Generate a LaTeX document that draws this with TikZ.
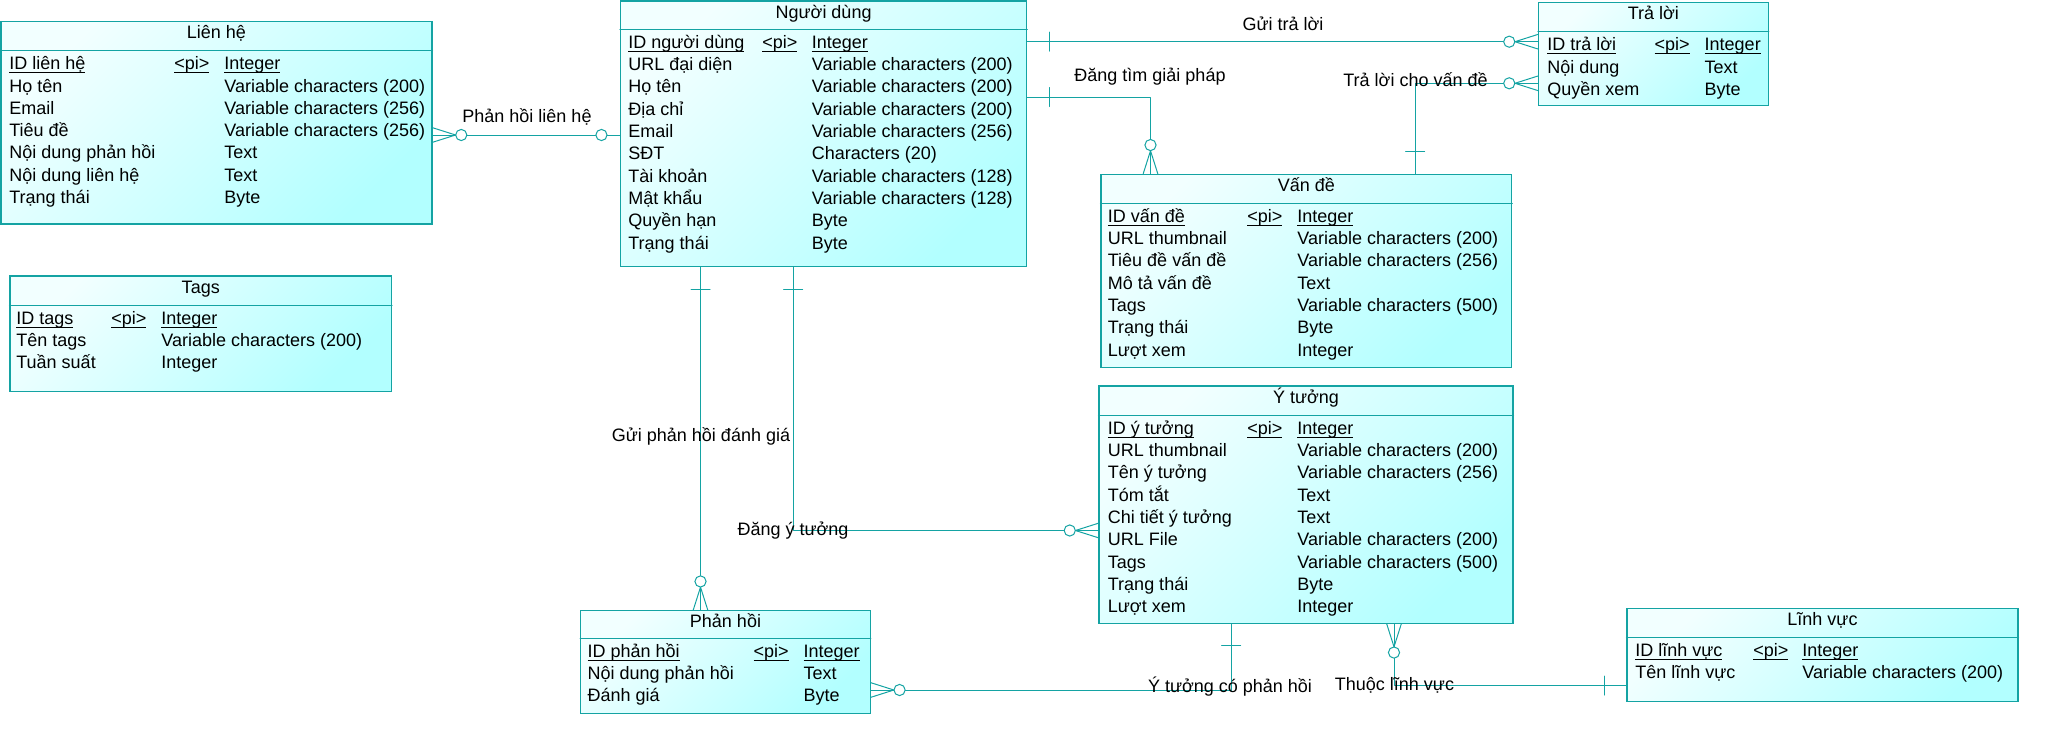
\documentclass[tikz,border=0pt]{standalone}
\usepackage{fontspec}
\setmainfont{Liberation Sans}
\usetikzlibrary{fit}
\definecolor{erline}{HTML}{14A3A3}
\definecolor{erfilla}{HTML}{F2FFFF}
\definecolor{erfillb}{HTML}{B2FFFF}
\newcommand{\keyul}[1]{\underline{\smash{#1}}}
\begin{document}
\begin{tikzpicture}[x=0.5pt,y=-0.5pt,line cap=round,line join=round,
    font=\fontsize{9}{11}\selectfont,
    entbox/.style={draw=erline,line width=0.55pt,line join=miter,inner sep=0pt,top color=erfilla,bottom color=erfillb,shading angle=45},
    hdr/.style={draw=erline,line width=0.55pt},
    rel/.style={draw=erline,line width=0.5pt},
    cell/.style={anchor=base west,inner sep=0pt},
    ttl/.style={anchor=base,inner sep=0pt},
    lbl/.style={anchor=base,inner sep=0pt}]
  \useasboundingbox (0,0) rectangle (2052,744);

  % Lien he
  \node[entbox,fit={(1,21.7) (432,224)}] (lienhe) {};
  \draw[hdr] (lienhe.west |- 0,50.7) -- (lienhe.east |- 0,50.7);
  \node[ttl] (lienhe-t) at (lienhe.center |- 0,38.7) {Liên hệ};
  \node[cell] (lienhe-k1) at (9,69.7) {\keyul{ID liên hệ}};
  \node[cell] (lienhe-k2) at (174,69.7) {\keyul{<pi>}};
  \node[cell] (lienhe-k3) at (224,69.7) {\keyul{Integer}};
  \foreach \nm/\ty [count=\i] in {Họ tên/Variable characters (200),Email/Variable characters (256),
      Tiêu đề/Variable characters (256),Nội dung phản hồi/Text,Nội dung liên hệ/Text,Trạng thái/Byte}
    {\node[cell] (lienhe-n\i) at (9,{69.7+22.3*\i}) {\nm};
     \node[cell] (lienhe-d\i) at (224,{69.7+22.3*\i}) {\ty};}

  % Nguoi dung
  \node[entbox,fit={(620.5,1) (1026.7,266.7)}] (nguoidung) {};
  \draw[hdr] (nguoidung.west |- 0,29.3) -- (nguoidung.east |- 0,29.3);
  \node[ttl] (nguoidung-t) at (nguoidung.center |- 0,18.3) {Người dùng};
  \node[cell] (nguoidung-k1) at (628,48.3) {\keyul{ID người dùng}};
  \node[cell] (nguoidung-k2) at (762,48.3) {\keyul{<pi>}};
  \node[cell] (nguoidung-k3) at (811.5,48.3) {\keyul{Integer}};
  \foreach \nm/\ty [count=\i] in {URL đại diện/Variable characters (200),Họ tên/Variable characters (200),
      Địa chỉ/Variable characters (200),Email/Variable characters (256),SĐT/Characters (20),
      Tài khoản/Variable characters (128),Mật khẩu/Variable characters (128),Quyền hạn/Byte,Trạng thái/Byte}
    {\node[cell] (nguoidung-n\i) at (628,{48.3+22.3*\i}) {\nm};
     \node[cell] (nguoidung-d\i) at (811.5,{48.3+22.3*\i}) {\ty};}

  % Tra loi
  \node[entbox,fit={(1538.5,2.7) (1768.3,105.3)}] (traloi) {};
  \draw[hdr] (traloi.west |- 0,31.7) -- (traloi.east |- 0,31.7);
  \node[ttl] (traloi-t) at (traloi.center |- 0,19.7) {Trả lời};
  \node[cell] (traloi-k1) at (1547,50.7) {\keyul{ID trả lời}};
  \node[cell] (traloi-k2) at (1654.3,50.7) {\keyul{<pi>}};
  \node[cell] (traloi-k3) at (1704.3,50.7) {\keyul{Integer}};
  \foreach \nm/\ty [count=\i] in {Nội dung/Text,Quyền xem/Byte}
    {\node[cell] (traloi-n\i) at (1547,{50.7+22.3*\i}) {\nm};
     \node[cell] (traloi-d\i) at (1704.3,{50.7+22.3*\i}) {\ty};}

  % Van de
  \node[entbox,fit={(1101,174.3) (1511.7,367.3)}] (vande) {};
  \draw[hdr] (vande.west |- 0,203.3) -- (vande.east |- 0,203.3);
  \node[ttl] (vande-t) at (vande.center |- 0,191.3) {Vấn đề};
  \node[cell] (vande-k1) at (1107.5,222.3) {\keyul{ID vấn đề}};
  \node[cell] (vande-k2) at (1247,222.3) {\keyul{<pi>}};
  \node[cell] (vande-k3) at (1297,222.3) {\keyul{Integer}};
  \foreach \nm/\ty [count=\i] in {URL thumbnail/Variable characters (200),Tiêu đề vấn đề/Variable characters (256),
      Mô tả vấn đề/Text,Tags/Variable characters (500),Trạng thái/Byte,Lượt xem/Integer}
    {\node[cell] (vande-n\i) at (1107.5,{222.3+22.3*\i}) {\nm};
     \node[cell] (vande-d\i) at (1297,{222.3+22.3*\i}) {\ty};}

  % Y tuong
  \node[entbox,fit={(1099,386) (1513,623.3)}] (ytuong) {};
  \draw[hdr] (ytuong.west |- 0,415.3) -- (ytuong.east |- 0,415.3);
  \node[ttl] (ytuong-t) at (ytuong.center |- 0,403) {Ý tưởng};
  \node[cell] (ytuong-k1) at (1107.5,434.3) {\keyul{ID ý tưởng}};
  \node[cell] (ytuong-k2) at (1247,434.3) {\keyul{<pi>}};
  \node[cell] (ytuong-k3) at (1297,434.3) {\keyul{Integer}};
  \foreach \nm/\ty [count=\i] in {URL thumbnail/Variable characters (200),Tên ý tưởng/Variable characters (256),
      Tóm tắt/Text,Chi tiết ý tưởng/Text,URL File/Variable characters (200),Tags/Variable characters (500),
      Trạng thái/Byte,Lượt xem/Integer}
    {\node[cell] (ytuong-n\i) at (1107.5,{434.3+22.3*\i}) {\nm};
     \node[cell] (ytuong-d\i) at (1297,{434.3+22.3*\i}) {\ty};}

  % Linh vuc
  \node[entbox,fit={(1627,608.3) (2018,701.3)}] (linhvuc) {};
  \draw[hdr] (linhvuc.west |- 0,637.3) -- (linhvuc.east |- 0,637.3);
  \node[ttl] (linhvuc-t) at (linhvuc.center |- 0,625.3) {Lĩnh vực};
  \node[cell] (linhvuc-k1) at (1635,656.3) {\keyul{ID lĩnh vực}};
  \node[cell] (linhvuc-k2) at (1753,656.3) {\keyul{<pi>}};
  \node[cell] (linhvuc-k3) at (1802,656.3) {\keyul{Integer}};
  \node[cell] (linhvuc-n1) at (1635,678.6) {Tên lĩnh vực};
  \node[cell] (linhvuc-d1) at (1802,678.6) {Variable characters (200)};

  % Tags
  \node[entbox,fit={(10,276) (391.5,391.3)}] (tags) {};
  \draw[hdr] (tags.west |- 0,305.3) -- (tags.east |- 0,305.3);
  \node[ttl] (tags-t) at (tags.center |- 0,293) {Tags};
  \node[cell] (tags-k1) at (16,324.3) {\keyul{ID tags}};
  \node[cell] (tags-k2) at (111,324.3) {\keyul{<pi>}};
  \node[cell] (tags-k3) at (161,324.3) {\keyul{Integer}};
  \foreach \nm/\ty [count=\i] in {Tên tags/Variable characters (200),Tuần suất/Integer}
    {\node[cell] (tags-n\i) at (16,{324.3+22.3*\i}) {\nm};
     \node[cell] (tags-d\i) at (161,{324.3+22.3*\i}) {\ty};}

  % Phan hoi
  \node[entbox,fit={(580.7,610.7) (870.3,713.3)}] (phanhoi) {};
  \draw[hdr] (phanhoi.west |- 0,638.3) -- (phanhoi.east |- 0,638.3);
  \node[ttl] (phanhoi-t) at (phanhoi.center |- 0,627.7) {Phản hồi};
  \node[cell] (phanhoi-k1) at (587.3,657.3) {\keyul{ID phản hồi}};
  \node[cell] (phanhoi-k2) at (753.3,657.3) {\keyul{<pi>}};
  \node[cell] (phanhoi-k3) at (803.3,657.3) {\keyul{Integer}};
  \foreach \nm/\ty [count=\i] in {Nội dung phản hồi/Text,Đánh giá/Byte}
    {\node[cell] (phanhoi-n\i) at (587.3,{657.3+22.2*\i}) {\nm};
     \node[cell] (phanhoi-d\i) at (803.3,{657.3+22.2*\i}) {\ty};}

  % relations
  \draw[rel] (lienhe.east |- 0,135) coordinate (e1a) -- (nguoidung.west |- 0,135) coordinate (e1b);
  \draw[rel] (nguoidung.east |- 0,41.7) coordinate (e2a) -- (traloi.west |- 0,41.7) coordinate (e2b);
  \draw[rel] (nguoidung.east |- 0,97) coordinate (e3a) -| (vande.north -| 1150.5,0) coordinate (e3b);
  \draw[rel] (vande.north -| 1415,0) coordinate (e4a) |- (traloi.west |- 0,83.3) coordinate (e4b);
  \draw[rel] (nguoidung.south -| 700.5,0) coordinate (e5a) -- (phanhoi.north -| 700.5,0) coordinate (e5b);
  \draw[rel] (nguoidung.south -| 793,0) coordinate (e6a) |- (ytuong.west |- 0,530.5) coordinate (e6b);
  \draw[rel] (ytuong.south -| 1231,0) coordinate (e7a) |- (phanhoi.east |- 0,690) coordinate (e7b);
  \draw[rel] (ytuong.south -| 1394,0) coordinate (e8a) |- (linhvuc.west |- 0,685.5) coordinate (e8b);

  % zero or many
  \foreach \c/\a in {e1a/0,e2b/180,e3b/90,e4b/180,e5b/90,e6b/180,e7b/0,e8a/-90}
    {\begin{scope}[shift={(\c)},rotate=\a]
       \draw[rel] (0,-7.3) -- (23,0) -- (0,7.3);
       \draw[rel,fill=white] (28.7,0) circle[radius=2.8pt];
     \end{scope}}
  % zero
  \begin{scope}[shift={(e1b)},rotate=180]
    \draw[rel,fill=white] (18.5,0) circle[radius=2.8pt];
  \end{scope}
  % one
  \foreach \c/\a in {e2a/0,e3a/0,e4a/90,e5a/-90,e6a/-90,e7a/-90,e8b/180}
    {\begin{scope}[shift={(\c)},rotate=\a]
       \draw[rel] (22,-9.5) -- (22,9.5);
     \end{scope}}

  \node[lbl] (r1) at (527,122.7) {Phản hồi liên hệ};
  \node[lbl] (r2) at (1283,30.7) {Gửi trả lời};
  \node[lbl] (r3) at (1150,81.7) {Đăng tìm giải pháp};
  \node[lbl] (r4) at (1415.5,86.7) {Trả lời cho vấn đề};
  \node[lbl] (r5) at (701,441.7) {Gửi phản hồi đánh giá};
  \node[lbl] (r6) at (793,535) {Đăng ý tưởng};
  \node[lbl] (r7) at (1230,692) {Ý tưởng có phản hồi};
  \node[lbl] (r8) at (1394.5,690) {Thuộc lĩnh vực};
\end{tikzpicture}
\end{document}
